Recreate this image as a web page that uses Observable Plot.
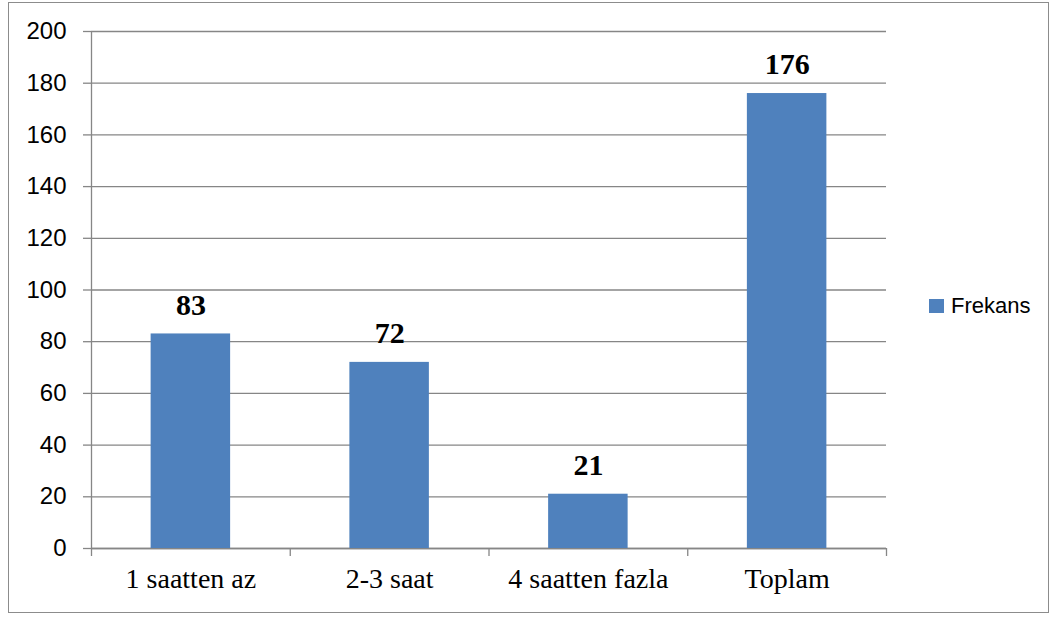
<!DOCTYPE html>
<html>
<head>
<meta charset="utf-8">
<script src="https://cdn.jsdelivr.net/npm/d3@7"></script>
<script src="https://cdn.jsdelivr.net/npm/@observablehq/plot@0.6"></script>
<style>
  html, body { margin: 0; padding: 0; background: #fff; }
  #wrap { position: relative; width: 1055px; height: 617px; overflow: hidden; }
  #wrap svg { position: absolute; left: 0; top: 0; }
  #border { position: absolute; left: 8px; top: 2px; width: 1041px; height: 611px; border: 1.5px solid #8c8c8c; box-sizing: border-box; pointer-events: none; }
  #legend { position: absolute; left: 929px; top: 293px; font-family: "Liberation Sans", Arial, sans-serif; font-size: 22px; color: #000; display: flex; align-items: center; }
  #legend .sw { width: 15px; height: 14px; background: #4F81BD; margin-right: 7px; }
</style>
</head>
<body>
<div id="wrap">
  <div id="border"></div>
  <div id="legend"><span class="sw"></span><span>Frekans</span></div>
</div>
<script>
const categories = ["1 saatten az", "2-3 saat", "4 saatten fazla", "Toplam"];
const frekans = [83, 72, 21, 176];
const yTicks = [0, 20, 40, 60, 80, 100, 120, 140, 160, 180, 200];
const seriesName = "Frekans";

const data = categories.map((c, i) => ({category: c, index: i, value: frekans[i]}));
const grey = "#868686";

const chart = Plot.plot({
  width: 1055,
  height: 617,
  marginLeft: 91,
  marginRight: 169,
  marginTop: 31,
  marginBottom: 69,
  style: {fontFamily: "Liberation Sans, Arial, sans-serif", fontSize: "24px", background: "transparent", overflow: "visible"},
  x: {domain: [0, categories.length], axis: null},
  y: {domain: [0, 200], axis: null},
  marks: [
    Plot.gridY(yTicks, {stroke: grey, strokeOpacity: 1, strokeWidth: 1.3}),
    Plot.axisY({ticks: yTicks, tickSize: 8, tickPadding: 17, stroke: grey, strokeWidth: 1.3, fill: "#000", fontSize: 24, label: null}),
    Plot.axisX({ticks: d3.range(0, categories.length + 1), tickSize: 8, tickFormat: () => "", stroke: grey, strokeWidth: 1.3, label: null}),
    Plot.ruleX([0], {stroke: grey, strokeWidth: 1.3}),
    Plot.ruleY([0], {stroke: grey, strokeWidth: 1.3}),
    Plot.rectY(data, {x1: d => d.index + 0.3, x2: d => d.index + 0.7, y1: 0, y2: "value", fill: "#4F81BD"}),
    Plot.text(data, {x: d => d.index + 0.5, y: "value", text: d => String(d.value), dy: -29, fontFamily: "Liberation Serif, Times New Roman, serif", fontWeight: "bold", fontSize: 30, fill: "#000"}),
    Plot.text(data, {x: d => d.index + 0.5, frameAnchor: "bottom", text: "category", dy: 39, fontFamily: "Liberation Serif, Times New Roman, serif", fontSize: 28, fill: "#000"})
  ]
});
document.getElementById("wrap").prepend(chart);
</script>
</body>
</html>
